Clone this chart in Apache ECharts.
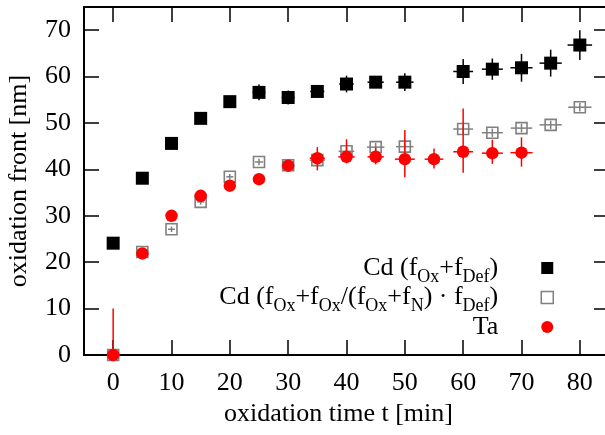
<!DOCTYPE html>
<html>
<head>
<meta charset="utf-8">
<script src="https://cdn.jsdelivr.net/npm/echarts@6/dist/echarts.min.js"></script>
<style>
  html, body { margin: 0; padding: 0; background: #fff; }
  #chart { width: 605px; height: 435px; }
</style>
</head>
<body>
<div id="chart"></div>
<script>
// Oxidation front depth [nm] vs. oxidation time [min], with x / y uncertainties.
// Cd, fraction f_Ox + f_Def
const cdDefTime      = [0, 5, 10, 15, 20, 25, 30, 35, 40, 45, 50, 60, 65, 70, 75, 80];
const cdDefFront     = [24.1, 38.1, 45.6, 51.0, 54.6, 56.6, 55.5, 56.8, 58.4, 58.8, 58.8, 61.1, 61.6, 61.9, 62.9, 66.8];
const cdDefTimeErr   = [0.8, 0.8, 0.8, 0.8, 0.8, 1.1, 1.1, 1.2, 1.25, 1.4, 1.5, 1.7, 1.8, 1.9, 1.9, 2.1];
const cdDefFrontErr  = [1.0, 1.0, 1.0, 1.0, 1.0, 1.7, 1.5, 1.4, 1.8, 1.1, 1.9, 2.7, 2.3, 3.0, 2.9, 3.2];

// Cd, fraction f_Ox + f_Ox/(f_Ox + f_N) * f_Def
const cdScaledTime     = [0, 5, 10, 15, 20, 25, 30, 35, 40, 45, 50, 60, 65, 70, 75, 80];
const cdScaledFront    = [0, 22.2, 27.1, 33.0, 38.4, 41.6, 40.9, 42.0, 43.9, 44.8, 44.9, 48.7, 47.9, 48.9, 49.6, 53.4];
const cdScaledTimeErr  = [0, 0.6, 0.6, 0.6, 0.6, 0.7, 0.8, 1.3, 1.35, 1.5, 1.5, 1.7, 1.8, 1.85, 1.9, 2.0];
const cdScaledFrontErr = [0, 0.6, 0.6, 0.6, 0.6, 0.7, 0.8, 0.8, 0.9, 0.9, 0.9, 0.9, 0.9, 0.9, 0.9, 0.9];

// Ta
const taTime         = [0, 5, 10, 15, 20, 25, 30, 35, 40, 45, 50, 55, 60, 65, 70];
const taFront        = [0, 21.9, 30.0, 34.3, 36.5, 37.9, 40.8, 42.4, 42.7, 42.7, 42.2, 42.2, 43.8, 43.5, 43.6];
const taTimeErr      = [0, 0.5, 0.5, 0.5, 0.5, 0.5, 0.6, 1.3, 1.4, 1.4, 1.7, 1.6, 1.7, 1.8, 1.9];
const taFrontErrLow  = [10, 0.5, 0.5, 0.5, 0.5, 0.5, 0.8, 2.6, 1.4, 1.6, 3.9, 2.0, 4.5, 2.3, 3.0];
const taFrontErrHigh = [10, 0.5, 0.5, 0.5, 0.5, 0.5, 0.8, 2.4, 3.8, 2.0, 6.3, 2.3, 9.3, 2.9, 3.3];

// Axis ticks
const xTicks = [0, 10, 20, 30, 40, 50, 60, 70, 80];
const yTicks = [0, 10, 20, 30, 40, 50, 60, 70];

// Series names and their legend labels (rich text with subscripts)
const NAME_CD_DEF = 'Cd (fOx+fDef)';
const NAME_CD_SCALED = 'Cd (fOx+fOx/(fOx+fN) · fDef)';
const NAME_TA = 'Ta';
const legendLabels = {};
legendLabels[NAME_CD_DEF] = 'Cd (f{s|Ox}+f{s|Def})';
legendLabels[NAME_CD_SCALED] = 'Cd (f{s|Ox}+f{s|Ox}/(f{s|Ox}+f{s|N}) · f{s|Def})';
legendLabels[NAME_TA] = 'Ta';

const FONT = 'Liberation Serif';
const FS = 26;
const LH = 28;

function points(xs, ys) {
  return xs.map((x, i) => [x, ys[i]]);
}
// rows: x, y, xLow, xHigh, yLow, yHigh
function errorRows(xs, ys, xe, yLo, yHi) {
  return xs.map((x, i) => [x, ys[i], x - xe[i], x + xe[i], ys[i] - yLo[i], ys[i] + yHi[i]]);
}

function errorBars(color) {
  return function (params, api) {
    const x = api.value(0), y = api.value(1);
    const c = api.coord([x, y]);
    const l = api.coord([api.value(2), y]);
    const r = api.coord([api.value(3), y]);
    const b = api.coord([x, api.value(4)]);
    const t = api.coord([x, api.value(5)]);
    const style = { stroke: color, lineWidth: 1.5 };
    return {
      type: 'group',
      children: [
        { type: 'line', shape: { x1: l[0], y1: c[1], x2: r[0], y2: c[1] }, style: style },
        { type: 'line', shape: { x1: c[0], y1: t[1], x2: c[0], y2: b[1] }, style: style }
      ]
    };
  };
}

const BLACK = '#000000', GRAY = '#808080', RED = '#ff0000';

const axisLine = { show: true, onZero: false, lineStyle: { color: '#000', width: 2 } };
const tickStyle = { color: '#000', width: 1.5 };
const labelFont = { fontFamily: FONT, fontSize: FS, color: '#000' };

const chart = echarts.init(document.getElementById('chart'), null, { renderer: 'canvas' });

chart.setOption({
  animation: false,
  backgroundColor: '#fff',
  grid: { left: 84, right: -4, top: 7, bottom: 80, containLabel: false, outerBoundsMode: 'none' },
  xAxis: [
    {
      type: 'value', min: -5, max: 85, position: 'bottom',
      axisLine: axisLine,
      axisTick: { show: true, inside: true, length: 15, lineStyle: tickStyle, customValues: xTicks },
      axisLabel: Object.assign({ margin: 15, customValues: xTicks }, labelFont),
      splitLine: { show: false },
      name: 'oxidation time t [min]', nameLocation: 'middle', nameGap: 44,
      nameTextStyle: Object.assign({ padding: [0, 16, 0, 0] }, labelFont)
    },
    {
      type: 'value', min: -5, max: 85, position: 'top',
      axisLine: axisLine,
      axisTick: { show: true, inside: true, length: 15, lineStyle: tickStyle, customValues: xTicks },
      axisLabel: { show: false },
      splitLine: { show: false }
    }
  ],
  yAxis: [
    {
      type: 'value', min: 0, max: 75, position: 'left',
      axisLine: axisLine,
      axisTick: { show: true, inside: true, length: 15, lineStyle: tickStyle, customValues: yTicks },
      axisLabel: Object.assign({ margin: 13, customValues: yTicks }, labelFont),
      splitLine: { show: false },
      name: 'oxidation front [nm]', nameLocation: 'middle', nameGap: 52,
      nameTextStyle: labelFont
    },
    {
      type: 'value', min: 0, max: 75, position: 'right',
      axisLine: axisLine,
      axisTick: { show: true, inside: true, length: 15, lineStyle: tickStyle, customValues: yTicks },
      axisLabel: { show: false },
      splitLine: { show: false }
    }
  ],
  legend: {
    orient: 'vertical', align: 'right',
    right: 51, top: 254, padding: 0, itemGap: -2.5,
    itemWidth: 12, itemHeight: 12,
    selectedMode: false,
    formatter: function (name) { return legendLabels[name] + '{g| }'; },
    textStyle: {
      fontFamily: FONT, fontSize: FS, color: '#000', lineHeight: LH,
      rich: {
        s: { fontFamily: FONT, fontSize: 18, color: '#000', height: 10, lineHeight: LH, verticalAlign: 'bottom' },
        g: { width: 38, lineHeight: LH }
      }
    },
    data: [
      { name: NAME_CD_DEF, icon: 'rect', itemStyle: { color: BLACK } },
      { name: NAME_CD_SCALED, icon: 'rect', itemStyle: { color: 'rgba(0,0,0,0)', borderColor: GRAY, borderWidth: 1.5 } },
      { name: NAME_TA, icon: 'circle', itemStyle: { color: RED } }
    ]
  },
  series: [
    {
      name: NAME_CD_DEF + ' errors', type: 'custom', z: 1, clip: true,
      renderItem: errorBars(BLACK), encode: { x: 0, y: 1 },
      data: errorRows(cdDefTime, cdDefFront, cdDefTimeErr, cdDefFrontErr, cdDefFrontErr),
      silent: true
    },
    {
      name: NAME_CD_DEF, type: 'scatter', z: 2, clip: false,
      symbol: 'rect', symbolSize: 13,
      itemStyle: { color: BLACK, opacity: 1 },
      data: points(cdDefTime, cdDefFront)
    },
    {
      name: NAME_CD_SCALED + ' errors', type: 'custom', z: 3, clip: true,
      renderItem: errorBars(GRAY), encode: { x: 0, y: 1 },
      data: errorRows(cdScaledTime, cdScaledFront, cdScaledTimeErr, cdScaledFrontErr, cdScaledFrontErr),
      silent: true
    },
    {
      name: NAME_CD_SCALED, type: 'scatter', z: 4, clip: false,
      symbol: 'rect', symbolSize: 11,
      itemStyle: { color: 'rgba(0,0,0,0)', borderColor: GRAY, borderWidth: 1.6, opacity: 1 },
      data: points(cdScaledTime, cdScaledFront)
    },
    {
      name: NAME_TA + ' errors', type: 'custom', z: 5, clip: true,
      renderItem: errorBars(RED), encode: { x: 0, y: 1 },
      data: errorRows(taTime, taFront, taTimeErr, taFrontErrLow, taFrontErrHigh),
      silent: true
    },
    {
      name: NAME_TA, type: 'scatter', z: 6, clip: false,
      symbol: 'circle', symbolSize: 12.5,
      itemStyle: { color: RED, opacity: 1 },
      data: points(taTime, taFront)
    }
  ]
});
</script>
</body>
</html>
